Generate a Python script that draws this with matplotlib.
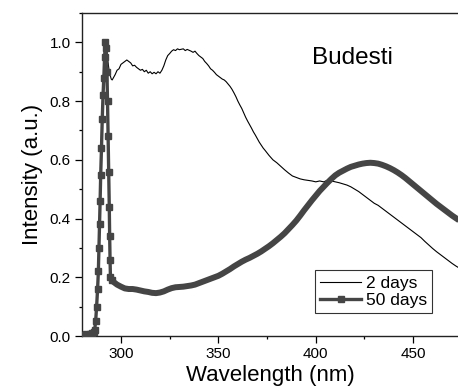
import matplotlib
matplotlib.use("Agg")
import matplotlib.pyplot as plt
from matplotlib.ticker import MultipleLocator

plt.rcParams['font.family'] = ['Liberation Sans', 'DejaVu Sans']

# 2 days (thin black)
wl_2 = [280, 283, 285, 286, 287, 288, 289, 290, 291, 292, 293, 294, 295, 295.5, 297, 298, 299, 300,
        301, 302, 303, 304, 305, 306, 307, 308, 309, 310, 311, 312, 313, 314, 315, 316, 317, 318,
        319, 320, 321, 322, 323, 324, 325, 326, 327, 328, 329, 330, 332, 333, 334, 336, 337, 338,
        339, 340, 341, 342, 343, 344, 345, 346, 347, 348, 349, 350, 351, 352, 353, 354, 355, 356,
        357, 358, 359, 360, 361, 362, 363, 364, 365, 366, 367, 368, 369, 370, 371, 372, 373, 374,
        376, 378, 380, 382, 384, 386, 388, 390, 392, 394, 396, 398, 400, 402, 404, 406, 408, 410,
        412, 414, 416, 418, 420, 422, 424, 426, 428, 430, 432, 434, 436, 438, 440, 442, 444, 446,
        448, 450, 452, 454, 456, 458, 460, 462, 464, 466, 468, 470, 472, 474]
int_2 = [0.003, 0.006, 0.01, 0.015, 0.05, 0.16, 0.38, 0.64, 0.88, 1.0, 0.95, 0.90, 0.875, 0.872, 0.89, 0.905, 0.91, 0.925,
         0.93, 0.935, 0.94, 0.935, 0.93, 0.92, 0.922, 0.915, 0.91, 0.905, 0.908, 0.90, 0.905, 0.895, 0.90, 0.893, 0.898, 0.893,
         0.90, 0.895, 0.905, 0.92, 0.94, 0.955, 0.962, 0.97, 0.975, 0.972, 0.978, 0.975, 0.978, 0.972, 0.976, 0.97, 0.966, 0.97,
         0.962, 0.955, 0.95, 0.945, 0.935, 0.928, 0.92, 0.91, 0.905, 0.898, 0.89, 0.885, 0.88, 0.875, 0.872, 0.866, 0.858, 0.85,
         0.84, 0.828, 0.815, 0.80, 0.787, 0.775, 0.76, 0.745, 0.732, 0.72, 0.708, 0.695, 0.684, 0.672, 0.66, 0.65, 0.64, 0.632,
         0.615, 0.60, 0.59, 0.578, 0.566, 0.555, 0.545, 0.54, 0.535, 0.532, 0.53, 0.528, 0.525, 0.528, 0.525, 0.53, 0.528, 0.525,
         0.522, 0.518, 0.514, 0.508, 0.50, 0.492, 0.482, 0.472, 0.462, 0.452, 0.445, 0.435, 0.425, 0.415, 0.405, 0.395, 0.385, 0.375,
         0.365, 0.355, 0.345, 0.335, 0.322, 0.31, 0.298, 0.287, 0.277, 0.267, 0.257, 0.247, 0.238, 0.23]

# 50 days (thick grey with square markers)
wl_50 = [280, 282, 284, 285, 286, 286.5, 287.0, 287.5, 288.0, 288.4, 288.7, 289.0, 289.3, 289.6, 290.0,
         290.4, 290.8, 291.2, 291.6, 292.0, 292.4, 292.8, 293.1, 293.4, 293.7, 294.0, 294.2, 294.4, 294.6,
         295.2, 296, 298, 300, 302, 304, 306, 308, 310, 312, 314, 316, 318, 320, 322, 324, 326, 328, 330,
         332, 334, 336, 338, 340, 342, 344, 346, 348, 350, 352, 354, 356, 358, 360, 362, 364, 366, 368, 370,
         372, 374, 376, 378, 380, 382, 384, 386, 388, 390, 392, 394, 396, 398, 400, 402, 404, 406, 408, 410,
         412, 414, 416, 418, 420, 422, 424, 426, 428, 430, 432, 434, 436, 438, 440, 442, 444, 446, 448, 450,
         452, 454, 456, 458, 460, 462, 464, 466, 468, 470, 472, 474]
int_50 = [0.005, 0.006, 0.008, 0.01, 0.015, 0.02, 0.05, 0.10, 0.16, 0.22, 0.30, 0.38, 0.46, 0.55, 0.64,
          0.74, 0.82, 0.88, 0.95, 1.0, 0.98, 0.90, 0.80, 0.68, 0.56, 0.44, 0.34, 0.26, 0.20,
          0.19, 0.185, 0.175, 0.168, 0.162, 0.16, 0.16, 0.158, 0.155, 0.152, 0.15, 0.147, 0.146, 0.148, 0.152, 0.158, 0.163, 0.166, 0.167,
          0.168, 0.17, 0.172, 0.175, 0.18, 0.185, 0.19, 0.195, 0.20, 0.205, 0.212, 0.22, 0.228, 0.237, 0.245, 0.253, 0.26, 0.266, 0.273, 0.28,
          0.288, 0.297, 0.306, 0.316, 0.327, 0.338, 0.35, 0.364, 0.378, 0.393, 0.41, 0.428, 0.445, 0.462, 0.478, 0.494, 0.508, 0.522, 0.535, 0.547,
          0.556, 0.563, 0.57, 0.576, 0.58, 0.584, 0.587, 0.589, 0.59, 0.589, 0.587, 0.583, 0.578, 0.572, 0.565, 0.557, 0.548, 0.538, 0.527, 0.516,
          0.505, 0.494, 0.483, 0.472, 0.461, 0.45, 0.44, 0.43, 0.42, 0.41, 0.401, 0.392]

labels = ["2 days", "50 days"]
x_ticks = [300, 350, 400, 450]
y_ticks = [0.0, 0.2, 0.4, 0.6, 0.8, 1.0]

GREY = '#454545'
N_PEAK = 30  # points of the sharp peak, where the markers stand apart

fig = plt.figure(figsize=(4.58, 3.91), dpi=100)
ax = fig.add_axes([82/458, 55/391, 1 - 82/458, 323/391])

ax.plot(wl_2, int_2, color='black', lw=0.8, label=labels[0], zorder=2)
ax.plot(wl_50, int_50, color=GREY, lw=2.4, solid_joinstyle='round', marker='s', ms=3.9,
        markevery=list(range(N_PEAK)), mec=GREY, mfc=GREY, label=labels[1], zorder=3)
# after the peak the markers overlap into one continuous band
ax.plot(wl_50[N_PEAK - 1:], int_50[N_PEAK - 1:], color=GREY, lw=4.3, solid_capstyle='butt',
        solid_joinstyle='round', zorder=3)

ax.set_xlim(280, 473)
ax.set_ylim(0, 1.1)
ax.set_xticks(x_ticks)
ax.set_yticks(y_ticks)
ax.set_yticklabels([f"{v:.1f}" for v in y_ticks])
ax.xaxis.set_minor_locator(MultipleLocator(25))
ax.yaxis.set_minor_locator(MultipleLocator(0.1))
ax.tick_params(which='major', direction='out', length=5, width=0.9, labelsize=11, pad=3)
ax.tick_params(which='minor', direction='out', length=2.5, width=0.9)
ax.tick_params(top=False, right=False)
ax.spines['right'].set_visible(False)
for s in ['left', 'bottom', 'top']:
    ax.spines[s].set_linewidth(1.0)
    ax.spines[s].set_color('#222222')

ax.set_xlabel("Wavelength (nm)", fontsize=16, labelpad=3)
ax.set_ylabel("Intensity (a.u.)", fontsize=16, labelpad=5)

ax.text(0.612, 0.86, "Budesti", transform=ax.transAxes, fontsize=17.5, ha='left', va='center')

leg = ax.legend(loc='lower right', bbox_to_anchor=(0.931, 0.071), numpoints=1,
                borderaxespad=0, fontsize=12.5, frameon=True, fancybox=False, edgecolor='black',
                handlelength=2.4, handletextpad=0.25, borderpad=0.3, labelspacing=0.12)
leg.get_frame().set_linewidth(0.8)

fig.savefig("out.png", dpi=100)
